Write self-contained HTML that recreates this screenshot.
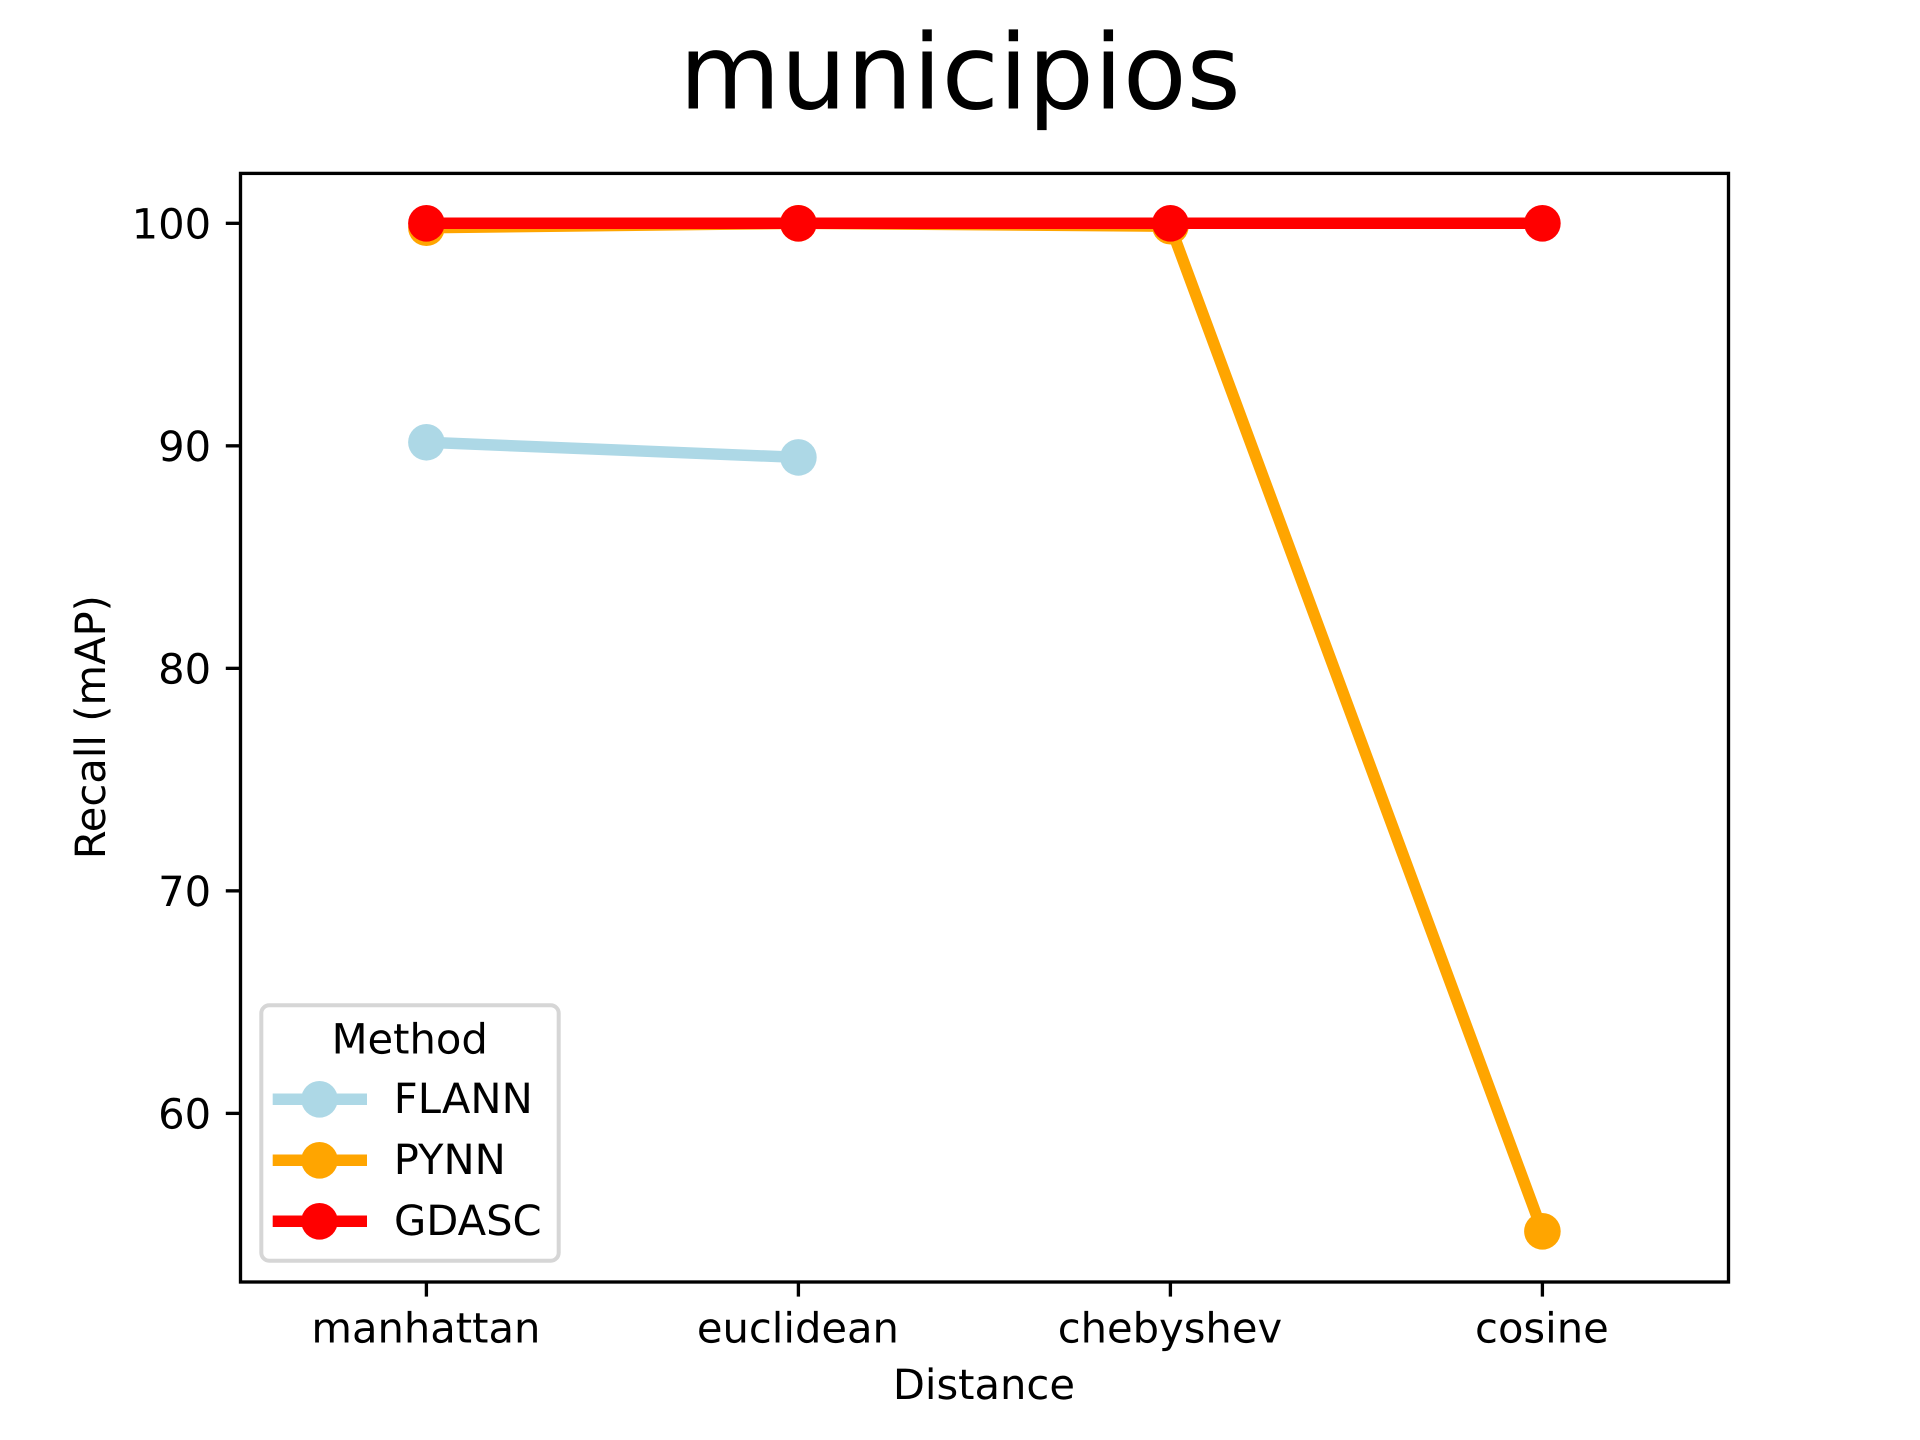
<!DOCTYPE html>
<html lang="en">
<head>
<meta charset="utf-8">
<title>municipios</title>
<style>
  html, body { margin: 0; padding: 0; background: #fff; }
  svg { display: block; }
  text { font-family: "DejaVu Sans", "Liberation Sans", sans-serif; fill: #000; text-rendering: geometricPrecision; }
</style>
</head>
<body>
<svg id="chart" xmlns="http://www.w3.org/2000/svg" width="1920" height="1440" viewBox="0 0 1920 1440">
  <rect x="0" y="0" width="1920" height="1440" fill="#fff"/>
  <text x="960" y="108.7" font-size="104.17" text-anchor="middle">municipios</text>
  <g id="marks"></g>
  <rect x="240.5" y="173.4" width="1488" height="1108.6" fill="none" stroke="#000" stroke-width="3.33"/>
  <g id="x-ticks"></g>
  <g id="y-ticks"></g>
  <text x="983.9" y="1399" font-size="41.67" text-anchor="middle">Distance</text>
  <text transform="translate(105 727.2) rotate(-90)" font-size="41.67" text-anchor="middle">Recall (mAP)</text>
  <g>
    <rect x="261.3" y="1005.3" width="297.4" height="255.4" rx="8" ry="8" fill="#fff" fill-opacity="0.8" stroke="#d6d6d6" stroke-width="4"/>
    <text x="409.7" y="1053.5" font-size="41.67" text-anchor="middle">Method</text>
    <g>
      <line x1="272.7" y1="1099.3" x2="367" y2="1099.3" stroke="#add8e6" stroke-width="11.5"/>
      <circle cx="319.5" cy="1099.3" r="18.3" fill="#add8e6"/>
      <text x="393.8" y="1113" font-size="41.67">FLANN</text>
    </g>
    <g>
      <line x1="272.7" y1="1160.3" x2="367" y2="1160.3" stroke="#ffa500" stroke-width="11.5"/>
      <circle cx="319.5" cy="1160.3" r="18.3" fill="#ffa500"/>
      <text x="393.8" y="1174" font-size="41.67">PYNN</text>
    </g>
    <g>
      <line x1="272.7" y1="1221.3" x2="367" y2="1221.3" stroke="#ff0000" stroke-width="11.5"/>
      <circle cx="319.5" cy="1221.3" r="18.3" fill="#ff0000"/>
      <text x="394" y="1235" font-size="41.67">GDASC</text>
    </g>
  </g>
</svg>
<script>
const categories = ['manhattan', 'euclidean', 'chebyshev', 'cosine'];
const yTickValues = [60, 70, 80, 90, 100];
const flannValues = [90.16, 89.48, null, null];
const pynnValues = [99.8, 100, 99.87, 54.7];
const gdascValues = [100, 100, 100, 100];

const SVG_NS = 'http://www.w3.org/2000/svg';
const plotLeft = 240.4, plotRight = 1728.4, plotTop = 172.8, plotBottom = 1281.6;
const yMin = 52.44, yMax = 102.27;

function xScale(i) {
  return plotLeft + (i + 0.5) / categories.length * (plotRight - plotLeft);
}
function yScale(v) {
  return plotBottom - (v - yMin) / (yMax - yMin) * (plotBottom - plotTop);
}
function make(tag, parent) {
  const el = document.createElementNS(SVG_NS, tag);
  parent.appendChild(el);
  return el;
}

const marks = document.getElementById('marks');
function drawSeries(key, values, color) {
  const group = make('g', marks);
  
  
  const points = [];
  values.forEach(function (v, i) {
    if (v !== null) points.push([xScale(i), yScale(v), i]);
  });
  const line = make('polyline', group);
  
  
  line.setAttribute('points', points.map(function (p) { return p[0] + ',' + p[1]; }).join(' '));
  line.setAttribute('fill', 'none');
  line.setAttribute('stroke', color);
  line.setAttribute('stroke-width', '11.5');
  points.forEach(function (p) {
    const dot = make('circle', group);
    
    
    dot.setAttribute('cx', p[0]);
    dot.setAttribute('cy', p[1]);
    dot.setAttribute('r', '18.3');
    dot.setAttribute('fill', color);
  });
}
drawSeries('flann', flannValues, '#add8e6');
drawSeries('pynn', pynnValues, '#ffa500');
drawSeries('gdasc', gdascValues, '#ff0000');

const xTicks = document.getElementById('x-ticks');
categories.forEach(function (name, i) {
  const tick = make('line', xTicks);
  
  
  tick.setAttribute('x1', xScale(i));
  tick.setAttribute('x2', xScale(i));
  tick.setAttribute('y1', plotBottom + 0.4);
  tick.setAttribute('y2', plotBottom + 15);
  tick.setAttribute('stroke', '#000');
  tick.setAttribute('stroke-width', '3.33');
  const label = make('text', xTicks);
  
  
  label.setAttribute('x', xScale(i) - 0.5);
  label.setAttribute('y', '1342.5');
  label.setAttribute('font-size', '41.67');
  label.setAttribute('text-anchor', 'middle');
  label.textContent = name;
});

const yTicks = document.getElementById('y-ticks');
yTickValues.forEach(function (v) {
  const tick = make('line', yTicks);
  
  
  tick.setAttribute('x1', plotLeft - 14.6);
  tick.setAttribute('x2', plotLeft);
  tick.setAttribute('y1', yScale(v));
  tick.setAttribute('y2', yScale(v));
  tick.setAttribute('stroke', '#000');
  tick.setAttribute('stroke-width', '3.33');
  const label = make('text', yTicks);
  
  
  label.setAttribute('x', plotLeft - 29.2);
  label.setAttribute('y', yScale(v) + 15.2);
  label.setAttribute('font-size', '41.67');
  label.setAttribute('text-anchor', 'end');
  label.textContent = String(v);
});
</script>
</body>
</html>
